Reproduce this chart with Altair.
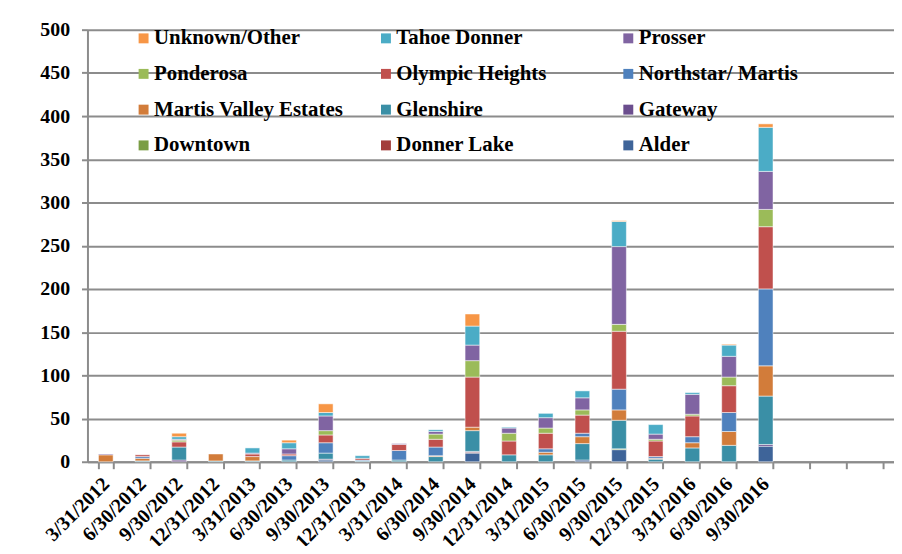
import altair as alt
import pandas as pd

quarters = ["3/31/2012", "6/30/2012", "9/30/2012", "12/31/2012", "3/31/2013", "6/30/2013",
            "9/30/2013", "12/31/2013", "3/31/2014", "6/30/2014", "9/30/2014", "12/31/2014",
            "3/31/2015", "6/30/2015", "9/30/2015", "12/31/2015", "3/31/2016", "6/30/2016",
            "9/30/2016"]
empty_slots = [" ", "  ", "   "]

# stacking order, bottom -> top
series = ["Alder", "Donner Lake", "Downtown", "Gateway", "Glenshire", "Martis Valley Estates",
          "Northstar/ Martis", "Olympic Heights", "Ponderosa", "Prosser", "Tahoe Donner",
          "Unknown/Other"]

alder     = [0, 0, 0, 0, 0, 0, 2, 0, 0, 0, 10, 0, 0, 2, 14, 0, 0, 0, 18]
donner    = [0, 0, 0, 0, 0, 0, 0, 0, 0, 0, 1, 0, 0, 0, 0, 0, 0, 0, 0]
downtown  = [0, 0, 0, 0, 0, 0, 0, 0, 0, 0, 0, 0, 0, 0, 1, 0, 0, 0, 0]
gateway   = [0, 0, 2, 0, 0, 0, 1, 0, 0, 0, 1, 0, 0, 0, 0, 0, 0, 0, 2]
glenshire = [0, 1, 15, 1, 1, 2, 7, 1, 2, 6, 24, 8, 8, 19, 33, 3, 16, 19, 56]
martis    = [8, 3, 0, 8, 5, 0, 0, 0, 0, 1, 4, 0, 3, 8, 12, 1, 6, 16, 35]
northstar = [0, 2, 0, 0, 0, 5, 12, 1, 11, 10, 0, 0, 4, 4, 24, 2, 7, 22, 89]
olympic   = [0, 2, 6, 0, 3, 2, 9, 2, 7, 9, 58, 16, 18, 21, 67, 18, 24, 31, 72]
ponderosa = [0, 0, 2, 0, 0, 0, 5, 0, 0, 6, 19, 9, 6, 6, 8, 2, 2, 10, 20]
prosser   = [1, 0, 1, 0, 1, 6, 17, 0, 1, 3, 18, 6, 12, 14, 90, 6, 23, 24, 44]
tahoe     = [0, 0, 3, 0, 6, 7, 4, 3, 0, 2, 22, 1, 5, 8, 29, 11, 2, 13, 51]
unknown   = [0, 0, 4, 0, 0, 3, 10, 0, 0, 0, 14, 0, 0, 0, 1, 0, 0, 1, 4]

values = [alder, donner, downtown, gateway, glenshire, martis, northstar, olympic,
          ponderosa, prosser, tahoe, unknown]

colors = ["#3E6499", "#A33E3B", "#7A9D45", "#6B4E8E", "#3A8FA6", "#D27C3A",
          "#4F81BD", "#C0504D", "#9BBB59", "#8064A2", "#4BACC6", "#F79646"]

rows = []
for si, s in enumerate(series):
    for qi, q in enumerate(quarters):
        v = values[si][qi]
        if v > 0:
            rows.append({"quarter": q, "area": s, "count": v, "order": si})
df = pd.DataFrame(rows)

x_domain = quarters + empty_slots
legend_order = series[::-1]
legend_colors = colors[::-1]

FONT = "Times New Roman, Liberation Serif, serif"
GRID = "#8C8C8C"

chart = alt.Chart(df).mark_bar(
    stroke="white", strokeWidth=1, strokeOpacity=0.5
).encode(
    x=alt.X("quarter:N",
            scale=alt.Scale(domain=x_domain, paddingInner=0.6, paddingOuter=0.3),
            axis=alt.Axis(title=None, labelAngle=-45, labelAlign="right",
                          labelBaseline="middle", labelPadding=12,
                          labelFont=FONT, labelFontSize=20, labelFontWeight="bold",
                          labelColor="black", tickBand="extent", tickSize=7,
                          tickColor=GRID, tickWidth=2, domainColor=GRID,
                          domainWidth=2, grid=False, labelOverlap=False)),
    y=alt.Y("count:Q", stack="zero",
            scale=alt.Scale(domain=[0, 500]),
            axis=alt.Axis(title=None, values=list(range(0, 501, 50)),
                          labelFont=FONT, labelFontSize=20, labelFontWeight="bold",
                          labelColor="black", labelPadding=12, tickSize=6,
                          tickColor=GRID, tickWidth=2, domainColor=GRID,
                          domainWidth=2, grid=True, gridColor=GRID, gridWidth=2)),
    color=alt.Color("area:N",
                    scale=alt.Scale(domain=legend_order, range=legend_colors),
                    legend=alt.Legend(title=None, orient="none", legendX=46, legendY=-2,
                                      direction="horizontal",
                                      columns=3, gridAlign="all", columnPadding=32,
                                      rowPadding=14, symbolType="square",
                                      symbolSize=100, symbolStrokeWidth=0,
                                      labelFont=FONT, labelFontSize=21,
                                      labelFontWeight="bold", labelColor="black",
                                      labelOffset=0, labelLimit=400)),
    order=alt.Order("order:Q", sort="ascending"),
).properties(
    width=812, height=435,
    autosize=alt.AutoSizeParams(type="none"),
    padding={"left": 80, "top": 20, "right": 0, "bottom": 83},
).configure_view(strokeWidth=0)

chart.save("out.html", embed_options={"renderer": "svg", "actions": False})
